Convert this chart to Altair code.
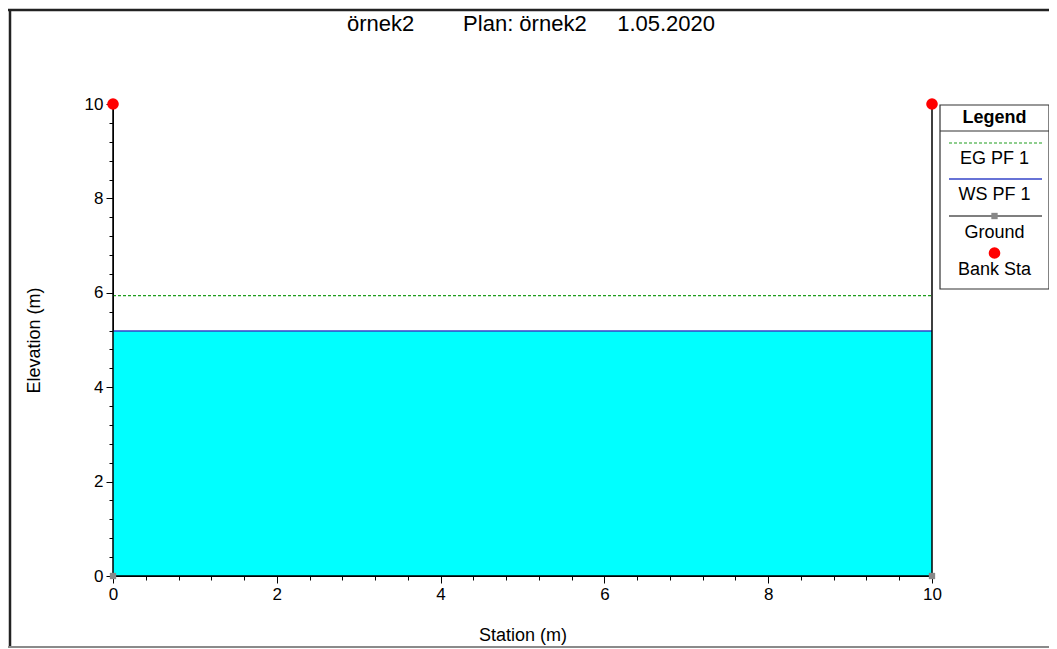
import altair as alt
import pandas as pd

# ---------------- data ----------------
title_parts = ["örnek2", "Plan: örnek2", "1.05.2020"]
ground_station = [0, 0, 10, 10]
ground_elev = [10, 0, 0, 10]
bank_station = [0, 10]
bank_elev = [10, 10]
water_station = [0, 10]
ws_elev = [5.19, 5.19]
eg_elev = [5.94, 5.94]
x_ticks = [0, 0.4, 0.8, 1.2, 1.6, 2, 2.4, 2.8, 3.2, 3.6, 4, 4.4, 4.8, 5.2, 5.6,
           6, 6.4, 6.8, 7.2, 7.6, 8, 8.4, 8.8, 9.2, 9.6, 10]
y_ticks = [0, 0.4, 0.8, 1.2, 1.6, 2, 2.4, 2.8, 3.2, 3.6, 4, 4.4, 4.8, 5.2, 5.6,
           6, 6.4, 6.8, 7.2, 7.6, 8, 8.4, 8.8, 9.2, 9.6, 10]
legend_title = "Legend"
legend_labels = ["EG PF 1", "WS PF 1", "Ground", "Bank Sta"]
x_title = "Station (m)"
y_title = "Elevation (m)"

FONT = "Liberation Sans"
NB = "\u00a0"
W, H = 819, 472

ground_df = pd.DataFrame({"station": ground_station, "elev": ground_elev})
gpts_df = pd.DataFrame({"station": ground_station[1:3], "elev": ground_elev[1:3]})
bank_df = pd.DataFrame({"station": bank_station, "elev": bank_elev})
ws_df = pd.DataFrame({"station": water_station, "elev": ws_elev})
eg_df = pd.DataFrame({"station": water_station, "elev": eg_elev})
one = pd.DataFrame({"k": [0]})

major = "datum.value % 2 === 0"
common = dict(labelExpr=f"{major} ? format(datum.value, 'd') : ''",
              tickSize={"condition": {"test": major, "value": 7}, "value": 4},
              titleAlign="center", titleBaseline="middle", titleFontSize=18,
              titleFontWeight="normal", titleFont=FONT, labelFont=FONT,
              labelFontSize=17, labelPadding=3, labelFlush=False,
              labelOverlap=False, domainColor="black", tickColor="black",
              labelColor="black", titleColor="black", grid=False)
xaxis = alt.Axis(values=x_ticks, title=x_title, titleX=W / 2, titleY=59, **common)
yaxis = alt.Axis(values=y_ticks, title=y_title, titleX=-79, titleY=H / 2,
                 titleAngle=-90, **common)

X = alt.X("station:Q", scale=alt.Scale(domain=[0, 10], nice=False, zero=False), axis=xaxis)
Y = alt.Y("elev:Q", scale=alt.Scale(domain=[0, 10], nice=False, zero=False), axis=yaxis)

EGC = "#1e9e1e"
WSC = "#3545c8"
water = alt.Chart(ws_df).mark_area(color="#00FFFF", opacity=1).encode(x=X, y=Y, y2=alt.datum(0))
eg = alt.Chart(eg_df).mark_line(color=EGC, strokeWidth=1.2, strokeDash=[3, 2]).encode(x=X, y=Y)
ws = alt.Chart(ws_df).mark_line(color=WSC, strokeWidth=1.6).encode(x=X, y=Y)
ground = alt.Chart(ground_df).mark_line(color="black", strokeWidth=1.5).encode(
    x=X, y=Y, order=alt.Order("idx:Q")).transform_window(idx="row_number()")
gpts = alt.Chart(gpts_df).mark_square(color="#888888", size=40, opacity=1).encode(x=X, y=Y)
bank = alt.Chart(bank_df).mark_circle(color="#ff0000", size=135, opacity=1).encode(x=X, y=Y)

# ---------------- title ----------------
title_txt = (NB * 8).join([title_parts[0], (NB * 5).join(title_parts[1:])])
title = alt.Chart(one).mark_text(font=FONT, fontSize=22, color="black",
                                 align="center", baseline="middle").encode(
    x=alt.value(418), y=alt.value(-80), text=alt.value(title_txt))

# ---------------- legend ----------------
LX0, LX1, LCX = 827, 936, 881.5
leg = [
    alt.Chart(one).mark_rect(fill="white", stroke="#333333", strokeWidth=1.2).encode(
        x=alt.value(LX0), x2=alt.value(LX1), y=alt.value(1), y2=alt.value(185)),
    alt.Chart(one).mark_rule(color="#333333", strokeWidth=1.2).encode(
        x=alt.value(LX0), x2=alt.value(LX1), y=alt.value(27)),
    alt.Chart(one).mark_text(font=FONT, fontSize=18, fontWeight="bold", color="black",
                             baseline="middle").encode(
        x=alt.value(LCX), y=alt.value(14), text=alt.value(legend_title)),
    alt.Chart(one).mark_rule(color=EGC, strokeWidth=1.2, strokeDash=[3, 2]).encode(
        x=alt.value(836), x2=alt.value(929), y=alt.value(39)),
    alt.Chart(one).mark_rule(color=WSC, strokeWidth=1.5).encode(
        x=alt.value(836), x2=alt.value(929), y=alt.value(75)),
    alt.Chart(one).mark_rule(color="black", strokeWidth=1.2).encode(
        x=alt.value(836), x2=alt.value(929), y=alt.value(112)),
    alt.Chart(one).mark_square(color="#888888", size=40, opacity=1).encode(
        x=alt.value(LCX), y=alt.value(112)),
    alt.Chart(one).mark_circle(color="#ff0000", size=135, opacity=1).encode(
        x=alt.value(LCX), y=alt.value(149)),
]
for lab, yy in zip(legend_labels, [55, 91, 129, 166]):
    leg.append(alt.Chart(one).mark_text(font=FONT, fontSize=18, color="black",
                                        baseline="middle").encode(
        x=alt.value(LCX), y=alt.value(yy), text=alt.value(lab)))

# ---------------- outer frame ----------------
frame = [
    alt.Chart(one).mark_rule(color="#222222", strokeWidth=2.5).encode(
        x=alt.value(-105), x2=alt.value(936), y=alt.value(-94)),
    alt.Chart(one).mark_rule(color="#222222", strokeWidth=2.5).encode(
        x=alt.value(-103), y=alt.value(-95), y2=alt.value(544)),
    alt.Chart(one).mark_rule(color="#8a8a8a", strokeWidth=2).encode(
        x=alt.value(-105), x2=alt.value(936), y=alt.value(543)),
]

chart = alt.layer(water, eg, ws, ground, gpts, bank, title, *leg, *frame).properties(
    width=W, height=H,
    autosize=alt.AutoSizeParams(type="none"),
    padding={"left": 105, "top": 96, "right": 117, "bottom": 73},
    background="white",
).configure_view(stroke=None)

chart.save("out.html", embed_options={"renderer": "svg", "actions": False})
